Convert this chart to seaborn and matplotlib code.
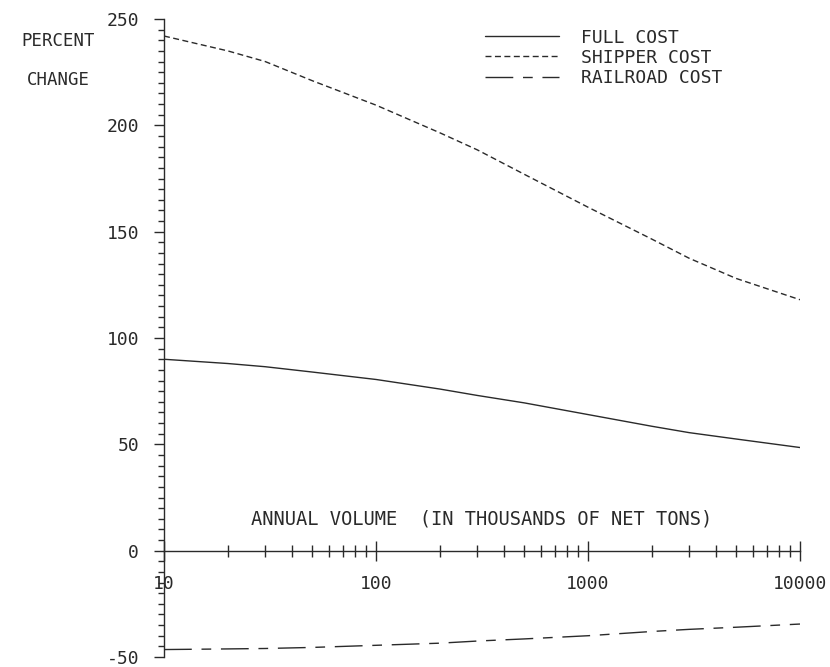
import numpy as np
import pandas as pd
import matplotlib
matplotlib.use("Agg")
import matplotlib.pyplot as plt
import matplotlib.ticker as mticker
import seaborn as sns

# annual volume (thousands of net tons)
volume = [10, 20, 30, 50, 100, 200, 300, 500, 1000, 2000, 3000, 5000, 10000]
full_cost = [90, 88, 86.5, 84, 80.5, 76, 73, 69.5, 64, 58.5, 55.5, 52.5, 48.5]
shipper_cost = [242, 235, 230, 221, 209.5, 196.5, 188.5, 177, 161.5, 146.5, 137.5, 128, 118]
railroad_cost = [-46.5, -46.2, -46, -45.5, -44.5, -43.5, -42.5, -41.5, -40, -38, -37, -36, -34.5]

series = ["FULL COST", "SHIPPER COST", "RAILROAD COST"]

df = pd.DataFrame({
    "volume": volume * 3,
    "pct": full_cost + shipper_cost + railroad_cost,
    "series": [s for s in series for _ in volume],
})

sns.set_style("ticks")
plt.rcParams["font.family"] = ["DejaVu Sans Mono"]
plt.rcParams["axes.unicode_minus"] = False
ink = "#2a2a2a"

fig = plt.figure(figsize=(8.3, 6.67), dpi=100)
ax = fig.add_axes([164 / 830, 1 - 657 / 667, 636 / 830, 638 / 667])

dashes = {
    "FULL COST": "",
    "SHIPPER COST": (4.3, 2.5),
    "RAILROAD COST": (20, 7, 7, 7),
}
sns.lineplot(data=df, x="volume", y="pct", hue="series", style="series",
             palette={s: ink for s in series}, dashes=dashes, linewidth=1.0,
             ax=ax, legend=True)

ax.set_xscale("log")
ax.set_xlim(10, 10000)
ax.set_ylim(-50, 250)

# axis cosmetics: bare plotter style
for s in ["top", "right"]:
    ax.spines[s].set_visible(False)
ax.spines["bottom"].set_position(("data", 0))
for s in ["bottom", "left"]:
    ax.spines[s].set_color(ink)
    ax.spines[s].set_linewidth(1.0)

ax.xaxis.set_major_locator(mticker.FixedLocator([10, 100, 1000, 10000]))
ax.xaxis.set_major_formatter(mticker.FuncFormatter(lambda v, p: f"{int(v)}"))
ax.xaxis.set_minor_locator(mticker.LogLocator(base=10, subs=np.arange(2, 10)))
ax.xaxis.set_minor_formatter(mticker.NullFormatter())
ax.yaxis.set_major_locator(mticker.MultipleLocator(50))
ax.yaxis.set_minor_locator(mticker.MultipleLocator(5))

ax.tick_params(axis="x", which="major", direction="inout", length=15, width=1.0,
               color=ink, labelcolor=ink, labelsize=13, pad=10)
ax.tick_params(axis="x", which="minor", direction="inout", length=8, width=1.0,
               color=ink)
ax.tick_params(axis="y", which="major", direction="out", length=7, width=1.0,
               color=ink, labelcolor=ink, labelsize=13, pad=11)
ax.tick_params(axis="y", which="minor", direction="out", length=4.5, width=1.0,
               color=ink)

ax.set_xlabel("")
ax.set_ylabel("")

ax.text(np.sqrt(10 * 10000), 15, "ANNUAL VOLUME  (IN THOUSANDS OF NET TONS)",
        ha="center", va="center", fontsize=13.5, color=ink)

fig.text(58 / 830, 1 - 41 / 667, "PERCENT", ha="center", va="center",
         fontsize=12.5, color=ink)
fig.text(58 / 830, 1 - 80 / 667, "CHANGE", ha="center", va="center",
         fontsize=12.5, color=ink)

leg = ax.legend(loc="upper left", bbox_to_anchor=(0.504, 0.985), frameon=False,
                fontsize=13, handlelength=4.15, handletextpad=1.2,
                labelspacing=0.12, borderpad=0, borderaxespad=0)
for t in leg.get_texts():
    t.set_color(ink)
for h in leg.get_lines():
    h.set_linewidth(1.0)

fig.savefig("out.png", dpi=100, facecolor="white")
